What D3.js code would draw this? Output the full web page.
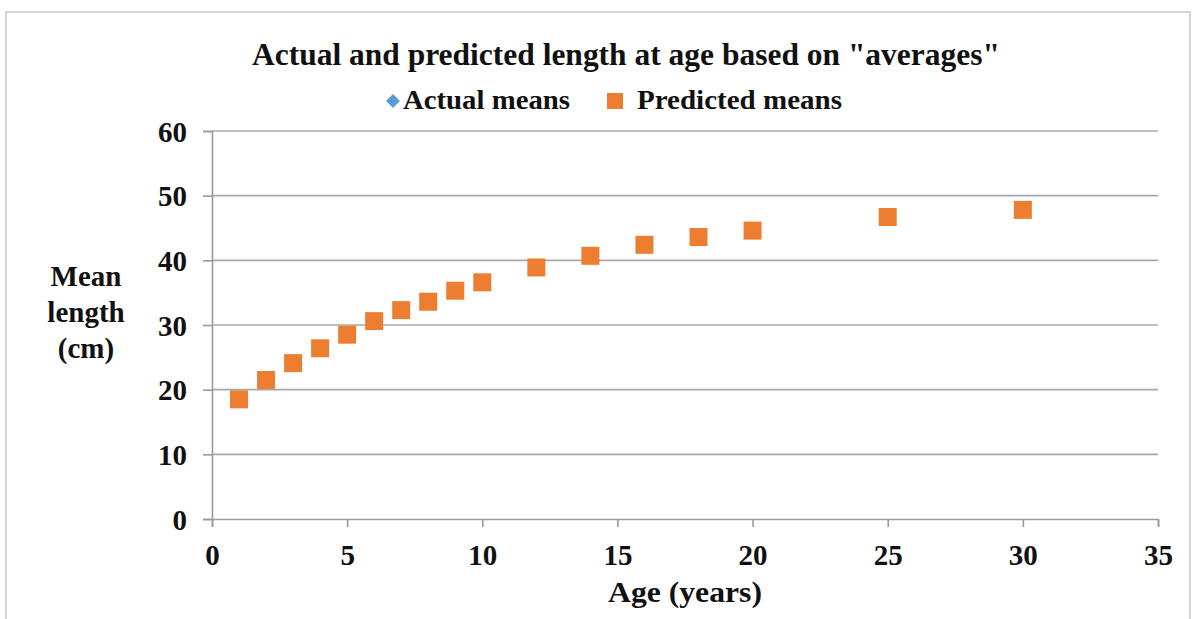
<!DOCTYPE html>
<html>
<head>
<meta charset="utf-8">
<script src="https://cdn.jsdelivr.net/npm/d3@7"></script>
<style>
  html, body { margin: 0; padding: 0; background: #fff; }
  svg { display: block; font-family: "Liberation Serif", "Times New Roman", serif; font-weight: bold; }
</style>
</head>
<body>
<svg id="chart" width="1200" height="619"></svg>
<script>
// Ages (years) and mean lengths (cm)
const ages = [1, 2, 3, 4, 5, 6, 7, 8, 9, 10, 12, 14, 16, 18, 20, 25, 30];
const predictedMeans = [18.5, 21.5, 24.1, 26.4, 28.5, 30.6, 32.3, 33.6, 35.3, 36.6, 38.9, 40.7, 42.4, 43.6, 44.6, 46.7, 47.8];
const actualMeans = [18.5, 21.5, 24.1, 26.4, 28.5, 30.6, 32.3, 33.6, 35.3, 36.6, 38.9, 40.7, 42.4, 43.6, 44.6, 46.7, 47.8];
const xTicks = [0, 5, 10, 15, 20, 25, 30, 35];
const yTicks = [0, 10, 20, 30, 40, 50, 60];
const seriesNames = ["Actual means", "Predicted means"];

const title = 'Actual and predicted length at age based on "averages"';
const xTitle = "Age (years)";
const yTitleLines = ["Mean", "length", "(cm)"];

const colors = { actual: "#5B9BD5", predicted: "#ED7D31", grid: "#a8a8a8", axis: "#9a9a9a", text: "#111" };
const serif = "'Liberation Serif', 'Times New Roman', serif";

const svg = d3.select("#chart");

// Outer chart frame
svg.append("rect")
  .attr("x", 6).attr("y", 12)
  .attr("width", 1184).attr("height", 630)
  .attr("fill", "#fff")
  .attr("stroke", "#d6d6d6").attr("stroke-width", 2);

const plot = { left: 212, right: 1158, top: 131, bottom: 519 };

const x = d3.scaleLinear().domain([0, 35]).range([plot.left, plot.right]);
const y = d3.scaleLinear().domain([0, 60]).range([plot.bottom, plot.top]);

// Horizontal gridlines
svg.append("g")
  .selectAll("line")
  .data(yTicks.filter(d => d > 0))
  .join("line")
  .attr("x1", plot.left).attr("x2", plot.right)
  .attr("y1", d => y(d)).attr("y2", d => y(d))
  .attr("stroke", colors.grid).attr("stroke-width", 1.6);

// Y axis
const yAxis = svg.append("g")
  .attr("transform", `translate(${plot.left},0)`)
  .call(d3.axisLeft(y).tickValues(yTicks).tickSize(9).tickPadding(16).tickFormat(d3.format("d")));
yAxis.attr("font-family", serif);
yAxis.select(".domain").attr("stroke", colors.axis).attr("stroke-width", 1.6);
yAxis.selectAll(".tick line").attr("stroke", colors.axis).attr("stroke-width", 1.6);
yAxis.selectAll(".tick text")
  .attr("fill", colors.text)
  .style("font-size", "29px").style("font-family", serif).style("font-weight", "bold")
  .attr("dy", "0.35em");

// X axis
const xAxis = svg.append("g")
  .attr("transform", `translate(0,${plot.bottom})`)
  .call(d3.axisBottom(x).tickValues(xTicks).tickSize(8).tickPadding(17).tickFormat(d3.format("d")));
xAxis.attr("font-family", serif);
xAxis.select(".domain").attr("stroke", colors.axis).attr("stroke-width", 1.6);
xAxis.selectAll(".tick line").attr("stroke", colors.axis).attr("stroke-width", 1.6);
xAxis.selectAll(".tick text")
  .attr("fill", colors.text)
  .style("font-size", "29px").style("font-family", serif).style("font-weight", "bold");

// Diamond marker path (a square turned 45 degrees)
const diamondPath = r => `M0,${-r}L${r},0L0,${r}L${-r},0Z`;

// Actual means (diamonds), drawn first
svg.append("g")
  .selectAll("path")
  .data(ages.map((a, i) => ({ a, v: actualMeans[i] })))
  .join("path")
  .attr("d", diamondPath(8))
  .attr("transform", d => `translate(${x(d.a)},${y(d.v)})`)
  .attr("fill", colors.actual);

// Predicted means (squares)
const sq = 18;
svg.append("g")
  .selectAll("rect")
  .data(ages.map((a, i) => ({ a, v: predictedMeans[i] })))
  .join("rect")
  .attr("x", d => x(d.a) - sq / 2)
  .attr("y", d => y(d.v) - sq / 2)
  .attr("width", sq).attr("height", sq)
  .attr("fill", colors.predicted);

// Title
svg.append("text")
  .attr("x", 626).attr("y", 65)
  .attr("text-anchor", "middle")
  .attr("fill", colors.text)
  .style("font-size", "31px")
  .attr("textLength", 748).attr("lengthAdjust", "spacingAndGlyphs")
  .text(title);

// Legend
const legend = svg.append("g");
legend.append("path")
  .attr("d", diamondPath(7))
  .attr("transform", "translate(393,101)")
  .attr("fill", colors.actual);
legend.append("text")
  .attr("x", 403).attr("y", 109)
  .attr("fill", colors.text).style("font-size", "28px")
  .attr("textLength", 167).attr("lengthAdjust", "spacingAndGlyphs")
  .text(seriesNames[0]);
legend.append("rect")
  .attr("x", 607).attr("y", 93).attr("width", 16).attr("height", 16)
  .attr("fill", colors.predicted);
legend.append("text")
  .attr("x", 637).attr("y", 109)
  .attr("fill", colors.text).style("font-size", "28px")
  .attr("textLength", 205).attr("lengthAdjust", "spacingAndGlyphs")
  .text(seriesNames[1]);

// Axis titles
svg.append("text")
  .attr("x", 685).attr("y", 602)
  .attr("text-anchor", "middle")
  .attr("fill", colors.text).style("font-size", "30px")
  .attr("textLength", 154).attr("lengthAdjust", "spacingAndGlyphs")
  .text(xTitle);

svg.append("g")
  .selectAll("text")
  .data(yTitleLines)
  .join("text")
  .attr("x", 86)
  .attr("y", (d, i) => 286 + i * 36)
  .attr("text-anchor", "middle")
  .attr("fill", colors.text).style("font-size", "29px")
  .text(d => d);
</script>
</body>
</html>
